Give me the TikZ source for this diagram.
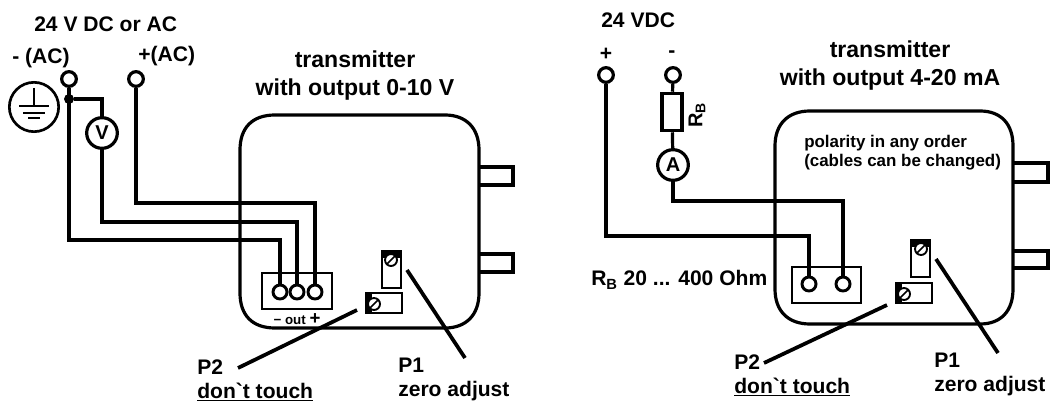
\documentclass[tikz,border=0pt]{standalone}
\usepackage{fontspec}
\setmainfont{Liberation Sans}
\newfontfamily\rawfont{Liberation Sans}
\tikzset{
  wire/.style={line width=2.4pt,color=black},
  terminal/.style={circle,draw,fill=white,line width=2.4pt,inner sep=0pt,minimum size=11pt},
  pin/.style={circle,draw,fill=white,line width=2.2pt,inner sep=0pt,minimum size=10.5pt},
  meter/.style={circle,draw,fill=white,line width=2.4pt,inner sep=0pt,minimum size=23pt,font=\bfseries\fontsize{15}{15}\selectfont},
  screw/.style={circle,draw,fill=white,line width=1.4pt,inner sep=0pt,minimum size=9pt},
  label/.style={inner sep=0.75pt,align=left,font=\bfseries\fontsize{15.8}{18}\selectfont},
  headlabel/.style={inner sep=0.75pt,align=center,font=\bfseries\fontsize{17.3}{21}\selectfont},
  smalllabel/.style={inner sep=0.75pt,align=left,font=\bfseries\fontsize{12.7}{14.2}\selectfont},
}
\begin{document}
\begin{tikzpicture}[x=0.75pt,y=0.75pt,yscale=-1,xscale=1]
\useasboundingbox (0,0) rectangle (1050,403);
% Left housing
\draw [wire] (240,150) .. controls (240,128) and (252,115) .. (275,115) -- (445,115) .. controls (466,115) and (479,128) .. (479,150) -- (479,293) .. controls (479,315) and (466,328) .. (445,328) -- (275,328) .. controls (252,328) and (240,315) .. (240,293) -- cycle;
\draw [wire] (479,167) -- (513,167) -- (513,185) -- (479,185);
\draw [wire] (479,254) -- (513,254) -- (513,272) -- (479,272);
% Left terminals
\node (lsupminus) [terminal] at (69,79) {};
\node (lsupplus) [terminal] at (136,79) {};
\node (lmeter) [meter] at (102,133) {V};
\node (ljoint) [circle,fill=black,inner sep=0pt,minimum size=7.5pt] at (69,99) {};
\draw [line width=2pt] (262,273) rectangle (332,309);
\node (lpinone) [pin] at (280,292) {};
\node (lpintwo) [pin] at (297,292) {};
\node (lpinthree) [pin] at (315,292) {};
\node (lout) [inner sep=0.75pt,font=\bfseries\fontsize{10}{10}\selectfont] at (297,319) {− out {\fontsize{14}{14}\selectfont +}};
% Left wires
\coordinate (lbendone) at (69,240);
\coordinate (lbendtwo) at (102,222);
\coordinate (lbendthree) at (136,203);
\draw [wire] (lsupminus) -- (lbendone) -| (lpinone);
\draw [wire] (lmeter) -- (lbendtwo) -| (lpintwo);
\draw [wire] (lsupplus) -- (lbendthree) -| (lpinthree);
\draw [wire] (ljoint) -| (lmeter);
% Earth symbol
\node (earth) [circle,draw,line width=2pt,inner sep=0pt,minimum size=37pt] at (34,107) {};
\coordinate (earthtop) at (34,88);
\coordinate (earthmid) at (34,106);
\draw [line width=1.8pt] (earthtop) -- (earthmid);
\draw [line width=1.8pt] (19,106) -- (49,106);
\draw [line width=1.8pt] (23,113) -- (45,113);
\draw [line width=1.8pt] (28,118) -- (40,118);
% Left trimmers
\draw [line width=2pt] (382,251) rectangle (401,288);
\fill (382,251) rectangle (401,258);
\node (lpone) [screw] at (391,260) {};
\draw [line width=1.2pt] (387,264) -- (395,256);
\draw [line width=2pt] (366,293) rectangle (402,313);
\fill (366,293) rectangle (372,313);
\node (lptwo) [screw] at (374,304) {};
\draw [line width=1.2pt] (370,308) -- (378,300);
% Left texts
\node (ltitle) [label,anchor=west] at (33,24) {24 V DC or AC};
\node (lminus) [label,anchor=west] at (11,58) {- (AC)};
\node (lplus) [label,anchor=west] at (137,56) {+(AC)};
\node (ltrans) [headlabel] at (355,76) {transmitter\\with output 0-10 V};
\node (lptwotext) [label,anchor=west] at (196,367) {P2};
\node (ltouch) [label,anchor=west] at (196,392) {\underline{\rawfont don`t touch}};
\node (lponetext) [label,anchor=west] at (397,365) {P1};
\node (lzero) [label,anchor=west] at (397,391) {zero adjust};
\coordinate (lptwoend) at (238,368);
\coordinate (lponeend) at (465,358);
\draw [wire,line width=2.8pt] (357,310) -- (lptwoend);
\draw [wire,line width=2.8pt] (407,270) -- (lponeend);
% Right housing
\draw [wire] (775,146) .. controls (775,124) and (788,111) .. (810,111) -- (980,111) .. controls (1001,111) and (1013,124) .. (1013,146) -- (1013,289) .. controls (1013,311) and (1001,324) .. (980,324) -- (810,324) .. controls (788,324) and (775,311) .. (775,289) -- cycle;
\draw [wire] (1013,163) -- (1048,163) -- (1048,182) -- (1013,182);
\draw [wire] (1013,251) -- (1048,251) -- (1048,268) -- (1013,268);
% Right terminals
\node (rsupplus) [terminal] at (606,75) {};
\node (rsupminus) [terminal] at (673,75) {};
\node (rres) [rectangle,draw,line width=2.4pt,fill=white,inner sep=0pt,minimum width=15pt,minimum height=28pt] at (672,112) {};
\node (rmeter) [meter] at (673,165) {A};
\draw [line width=2pt] (792,267) rectangle (861,303);
\node (rpinone) [pin] at (809,284) {};
\node (rpintwo) [pin] at (843,284) {};
% Right wires
\coordinate (rbendone) at (606,236);
\coordinate (rbendtwo) at (673,201);
\draw [wire] (rsupplus) -- (rbendone) -| (rpinone);
\draw [wire] (rsupminus) -- (rres);
\draw [wire] (rres) -- (rmeter);
\draw [wire] (rmeter) -- (rbendtwo) -| (rpintwo);
% Right trimmers
\draw [line width=2pt] (911,240) rectangle (930,277);
\fill (911,240) rectangle (930,247);
\node (rpone) [screw] at (921,249) {};
\draw [line width=1.2pt] (917,253) -- (925,245);
\draw [line width=2pt] (896,283) rectangle (932,303);
\fill (896,283) rectangle (902,303);
\node (rptwo) [screw] at (904,294) {};
\draw [line width=1.2pt] (900,298) -- (908,290);
% Right texts
\node (rtitle) [label,anchor=west] at (600,20) {24 VDC};
\node (rplusmark) [label] at (606,54) {+};
\node (rminusmark) [label] at (672,54) {-};
\node (rrestext) [inner sep=0.75pt,rotate=90,font=\bfseries\fontsize{15}{15}\selectfont] at (697,115) {R\textsubscript{B}};
\node (rtrans) [headlabel] at (890,66) {transmitter\\with output 4-20 mA};
\node (rpol) [smalllabel,anchor=west] at (803,153) {polarity in any order\\(cables can be changed)};
\node (rrange) [label,anchor=west] at (590,280) {R\textsubscript{B} 20 ... 400 Ohm};
\node (rptwotext) [label,anchor=west] at (733,362) {P2};
\node (rtouch) [label,anchor=west] at (733,387) {\underline{\rawfont don`t touch}};
\node (rponetext) [label,anchor=west] at (933,360) {P1};
\node (rzero) [label,anchor=west] at (933,386) {zero adjust};
\coordinate (rptwoend) at (764,363);
\coordinate (rponeend) at (998,353);
\draw [wire,line width=2.8pt] (887,305) -- (rptwoend);
\draw [wire,line width=2.8pt] (936,259) -- (rponeend);
\end{tikzpicture}
\end{document}
